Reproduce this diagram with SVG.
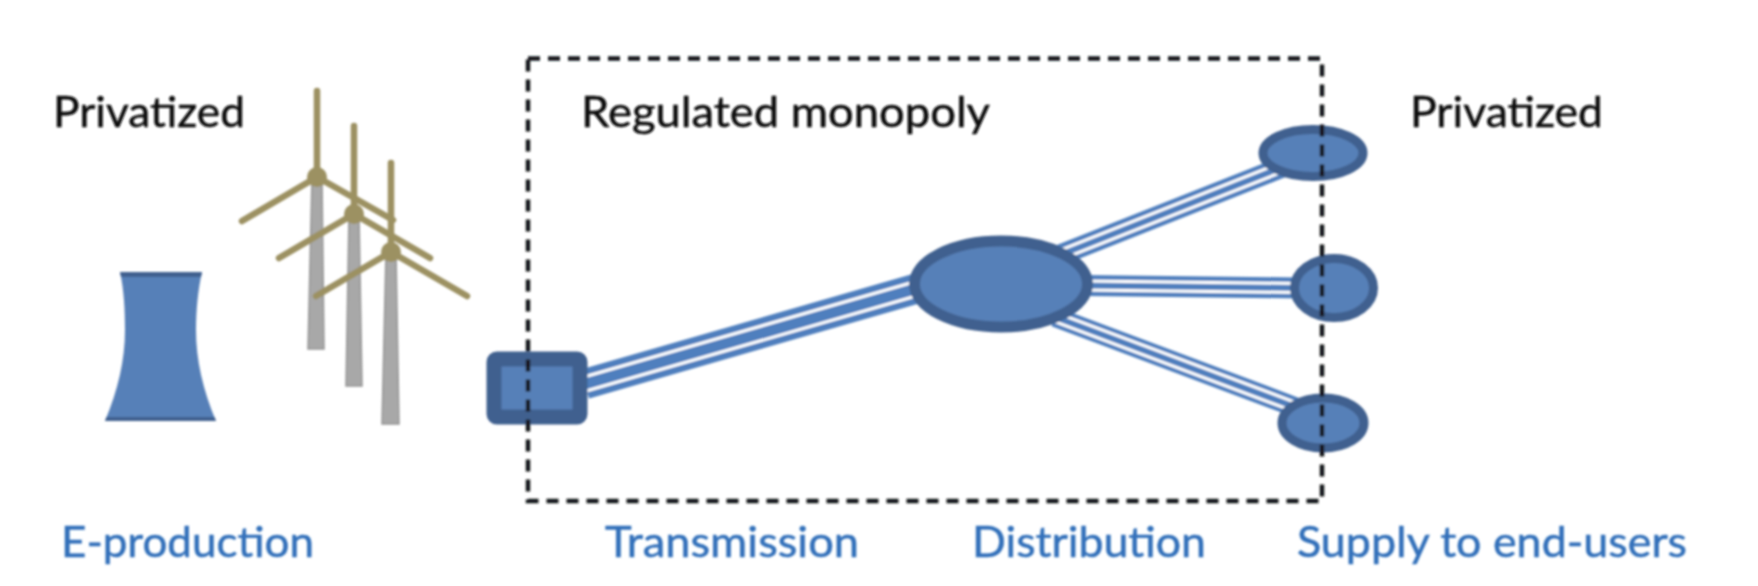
<svg xmlns="http://www.w3.org/2000/svg" width="1758" height="586" viewBox="0 0 1758 586">
<style>
text{font-family:"Lato","Open Sans","Liberation Sans",sans-serif;font-size:43px;stroke-width:0.500}
.k{fill:#111;stroke:#111}
.b{fill:#3170ba;stroke:#3170ba}
.node{fill:#5780b8;stroke:#41608f}
.blade{fill:none;stroke:#9c9162;stroke-width:6.500;stroke-linecap:round}
.hub{fill:#9c9162}
.mast{fill:#a8a8a8;stroke:#969696;stroke-width:1.500}
.o{fill:none;stroke:#4f7fbe}
.w{fill:none;stroke:#fff}
.dash{fill:none;stroke:#15181c;stroke-width:4.500;stroke-dasharray:12 8}
</style>
<defs><filter id="soft" x="-2%" y="-2%" width="104%" height="104%"><feGaussianBlur stdDeviation="0.8"/></filter></defs>
<rect width="1758" height="586" fill="#fff"/>
<g filter="url(#soft)">
<g id="connectors">
<g id="line-main"><path class="o" stroke-width="30" d="M585 384L915 289"/><path class="w" stroke-width="17" d="M585 384L915 289"/><path class="o" stroke-width="11" d="M585 384L915 289"/></g>
<g id="line-up"><path class="o" stroke-width="21" d="M1055 257L1290 164"/><path class="w" stroke-width="12" d="M1055 257L1290 164"/><path class="o" stroke-width="6" d="M1055 257L1290 164"/></g>
<g id="line-mid"><path class="o" stroke-width="21" d="M1085 285.500L1300 288"/><path class="w" stroke-width="12" d="M1085 285.500L1300 288"/><path class="o" stroke-width="6" d="M1085 285.500L1300 288"/></g>
<g id="line-low"><path class="o" stroke-width="20" d="M1055 317L1295 407"/><path class="w" stroke-width="12" d="M1055 317L1295 407"/><path class="o" stroke-width="6" d="M1055 317L1295 407"/></g>
</g>
<g id="cooling-tower">
<path d="M120 272H202C198 290 196 310 196 330C196 360 203 390 216 421H105C118 390 125 360 125 330C125 310 124 290 120 272Z" fill="#5780b8"/>
<path d="M120 272H202L201 277H121Z" fill="#41608f"/><path d="M106.500 417H214.500L216 421H105Z" fill="#41608f"/>
</g>
<g id="turbine-1"><path class="mast" d="M312 177H322L324 349H308Z"/><path class="blade" d="M317 91V177M317 177L242 221M317 177L393 220"/><circle class="hub" cx="317" cy="177" r="10"/></g>
<g id="turbine-2"><path class="mast" d="M349 214H359L362 386H346Z"/><path class="blade" d="M354 126V214M354 214L279 258M354 214L430 258"/><circle class="hub" cx="354" cy="214" r="10"/></g>
<g id="turbine-3"><path class="mast" d="M386 252H396L399 424H382Z"/><path class="blade" d="M391 163V252M391 252L316 296M391 252L467 296"/><circle class="hub" cx="391" cy="252" r="10"/></g>
<g id="transformer"><rect class="node" x="494" y="359" width="86" height="58" rx="3" stroke-width="15"/></g>
<g id="substation"><ellipse class="node" cx="1001" cy="284" rx="86.500" ry="43" stroke-width="11"/></g>
<g id="end-user-1"><ellipse class="node" cx="1313" cy="153" rx="50" ry="23.500" stroke-width="9"/></g>
<g id="end-user-2"><ellipse class="node" cx="1334" cy="288" rx="39.500" ry="29.500" stroke-width="9"/></g>
<g id="end-user-3"><ellipse class="node" cx="1323" cy="423" rx="41" ry="25" stroke-width="9"/></g>
<g id="regulated-boundary"><path class="dash" d="M528 58.500H1322V501H528Z"/></g>
<g id="labels">
<text class="k" x="53" y="127" textLength="192" lengthAdjust="spacingAndGlyphs">Privatized</text>
<text class="k" x="581" y="127" textLength="409" lengthAdjust="spacingAndGlyphs">Regulated monopoly</text>
<text class="k" x="1410" y="127" textLength="193" lengthAdjust="spacingAndGlyphs">Privatized</text>
<text class="b" x="61" y="557" textLength="253" lengthAdjust="spacingAndGlyphs">E-production</text>
<text class="b" x="605" y="557" textLength="254" lengthAdjust="spacingAndGlyphs">Transmission</text>
<text class="b" x="972" y="557" textLength="234" lengthAdjust="spacingAndGlyphs">Distribution</text>
<text class="b" x="1297" y="557" textLength="390" lengthAdjust="spacingAndGlyphs">Supply to end-users</text>
</g>
</g>
</svg>
